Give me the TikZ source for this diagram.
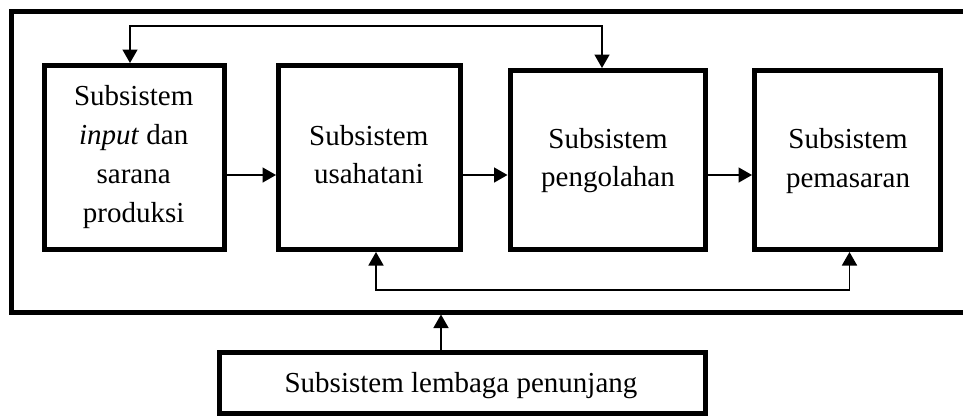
\documentclass[tikz,border=0pt]{standalone}
\usepackage{fontspec}
\setmainfont{Liberation Serif}
\usetikzlibrary{arrows.meta}

\tikzset{
  thickbox/.style={draw=black, line width=5pt, minimum width=#1, inner sep=0pt},
  boxtext/.style={align=center, inner sep=0pt, font={\fontsize{29}{38.7}\selectfont}},
  link/.style={draw=black, line width=1.6pt,
    arrows={-Triangle[length=13.5pt, width=15pt]}},
  dlink/.style={draw=black, line width=1.6pt,
    arrows={Triangle[length=13.5pt, width=15pt]-Triangle[length=13.5pt, width=15pt]}}
}

\begin{document}
\begin{tikzpicture}[x=1pt, y=-1pt]
  \useasboundingbox (0,0) rectangle (963,416);
  \clip (0,0) rectangle (963,416);

  % outer frame of the agribusiness system (runs past the right edge)
  \node[thickbox=988.5pt, minimum height=301pt] (frame) at (505.75,161.5) {};

  % the four subsystems
  \node[thickbox=180.5pt, minimum height=184pt] (b1) at (134.25,157.5) {};
  \node[thickbox=182pt,   minimum height=184pt] (b2) at (369.5,157.5) {};
  \node[thickbox=195.5pt, minimum height=179pt] (b3) at (607.75,160) {};
  \node[thickbox=186pt,   minimum height=179pt] (b4) at (847.5,160) {};

  \node[boxtext] (t1) at (133.7,157) {Subsistem\\\textit{input} dan\\sarana\\produksi};
  \node[boxtext] (t2) at (368.8,154.7) {Subsistem\\usahatani};
  \node[boxtext] (t3) at (608,160.7) {Subsistem\\pengolahan};
  \node[boxtext] (t4) at (848,160.7) {Subsistem\\pemasaran};

  % supporting institutions
  \node[thickbox=486.5pt, minimum height=61pt] (lem) at (462.25,383) {};
  \node[boxtext, anchor=base] (tl) at (461,392.3) {Subsistem lembaga penunjang};

  % flow between subsystems
  \coordinate (arow) at (0,175);
  \draw[link] (b1.east |- arow) -- (b2.west |- arow);
  \draw[link] (b2.east |- arow) -- (b3.west |- arow);
  \draw[link] (b3.east |- arow) -- (b4.west |- arow);

  % feedback loops
  \coordinate (fl) at (130,25.8);
  \coordinate (fr) at (602,25.8);
  \draw[dlink] (fl |- b1.north) -- (fl) -- (fr) -- (fr |- b3.north);

  \coordinate (gl) at (376,290.2);
  \coordinate (gr) at (849.5,290.2);
  \draw[dlink] (gl |- b2.south) -- (gl) -- (gr) -- (gr |- b4.south);

  % support feeding the whole system
  \coordinate (sx) at (441,0);
  \draw[link] (lem.north -| sx) -- (frame.south -| sx);
\end{tikzpicture}
\end{document}
